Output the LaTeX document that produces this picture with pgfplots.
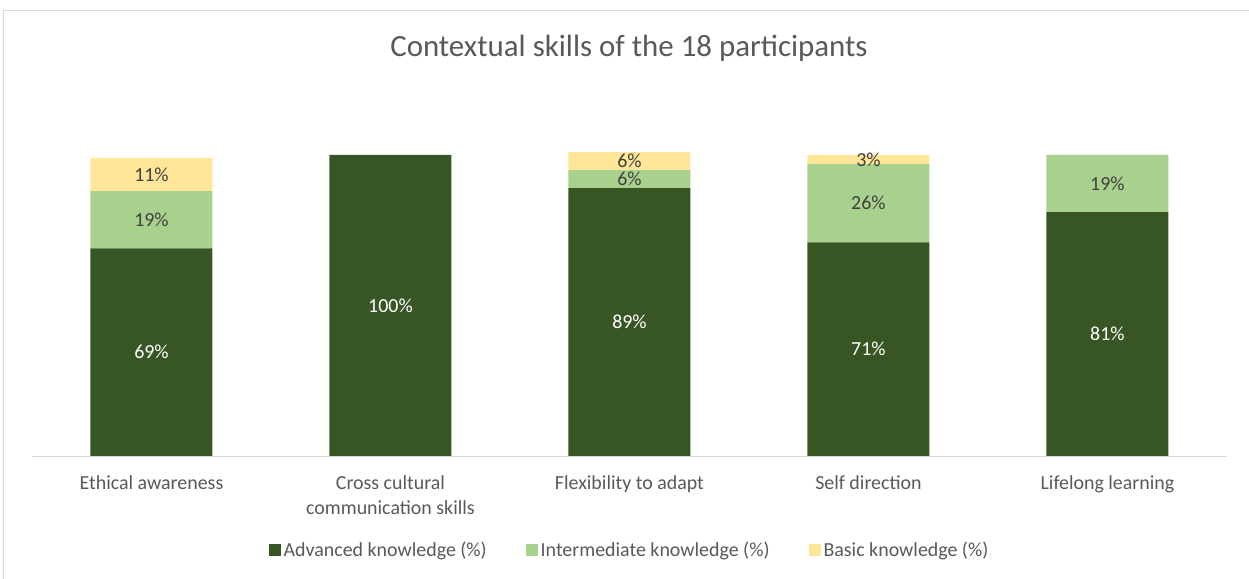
\documentclass[border=0pt]{standalone}
\usepackage{pgfplots}
\pgfplotsset{compat=1.18}
\usepackage{fontspec}
\setmainfont{Carlito}
\definecolor{adv}{HTML}{375623}
\definecolor{inter}{HTML}{A9D18E}
\definecolor{basic}{HTML}{FFE699}
\definecolor{txt}{HTML}{595959}
\definecolor{lbl}{HTML}{404040}
\definecolor{frame}{HTML}{D9D9D9}
\begin{document}
\begin{tikzpicture}
\useasboundingbox (0bp,0bp) rectangle (1249bp,579bp);
\draw[frame] (3bp,-5bp) rectangle (1254bp,569bp);
\node[font=\fontsize{31}{37}\selectfont, text=txt] at (629bp,531bp) {Contextual skills of the 18 participants};
\begin{axis}[
  at={(32bp,123bp)}, anchor=south west,
  scale only axis, width=1195bp, height=361.2bp,
  xmin=-0.5, xmax=4.5, ymin=0, ymax=120,
  ybar stacked, bar width=122bp,
  axis y line=none,
  axis x line*=bottom,
  x axis line style={frame, -, line width=1bp},
  xtick={0,1,2,3,4},
  major tick length=0pt,
  xticklabels={Ethical awareness, {Cross cultural\\communication skills}, Flexibility to adapt, Self direction, Lifelong learning},
  xticklabel style={font=\fontsize{20}{25}\selectfont, text=txt, align=center, anchor=north, yshift=-16bp},
  ytick=\empty,
  legend style={at={(0.5,-0.26)}, anchor=center, legend columns=3, draw=none,
    font=\fontsize{20}{24}\selectfont, text=txt,
    /tikz/every even column/.append style={column sep=37bp},
    /tikz/every odd column/.append style={column sep=1bp}},
  legend image code/.code={\fill[#1, draw=none] (0bp,-6bp) rectangle (12bp,6bp);},
]
\addplot[fill=adv, draw=none] coordinates {(0,69) (1,100) (2,89) (3,71) (4,81)};
\addlegendentry{Advanced knowledge (\%)}
\addplot[fill=inter, draw=none] coordinates {(0,19) (1,0) (2,6) (3,26) (4,19)};
\addlegendentry{Intermediate knowledge (\%)}
\addplot[fill=basic, draw=none] coordinates {(0,11) (1,0) (2,6) (3,3) (4,0)};
\addlegendentry{Basic knowledge (\%)}
\end{axis}
\begin{axis}[
  at={(32bp,123bp)}, anchor=south west,
  scale only axis, width=1195bp, height=361.2bp,
  xmin=-0.5, xmax=4.5, ymin=0, ymax=120,
  hide axis,
  point meta=explicit symbolic,
  nodes near coords,
  every node near coord/.append style={anchor=center, font=\fontsize{20}{24}\selectfont},
]
\addplot[only marks, mark=*, mark size=0pt, mark options={draw=none, fill=none},
  every node near coord/.append style={text=white}]
  coordinates {(0,34.5)[69\%] (1,50)[100\%] (2,44.5)[89\%] (3,35.5)[71\%] (4,40.5)[81\%]};
\addplot[only marks, mark=*, mark size=0pt, mark options={draw=none, fill=none},
  every node near coord/.append style={text=lbl}]
  coordinates {(0,78.5)[19\%] (2,92)[6\%] (3,84)[26\%] (4,90.5)[19\%]
               (0,93.5)[11\%] (2,98)[6\%] (3,98.5)[3\%]};
\end{axis}
\end{tikzpicture}
\end{document}
